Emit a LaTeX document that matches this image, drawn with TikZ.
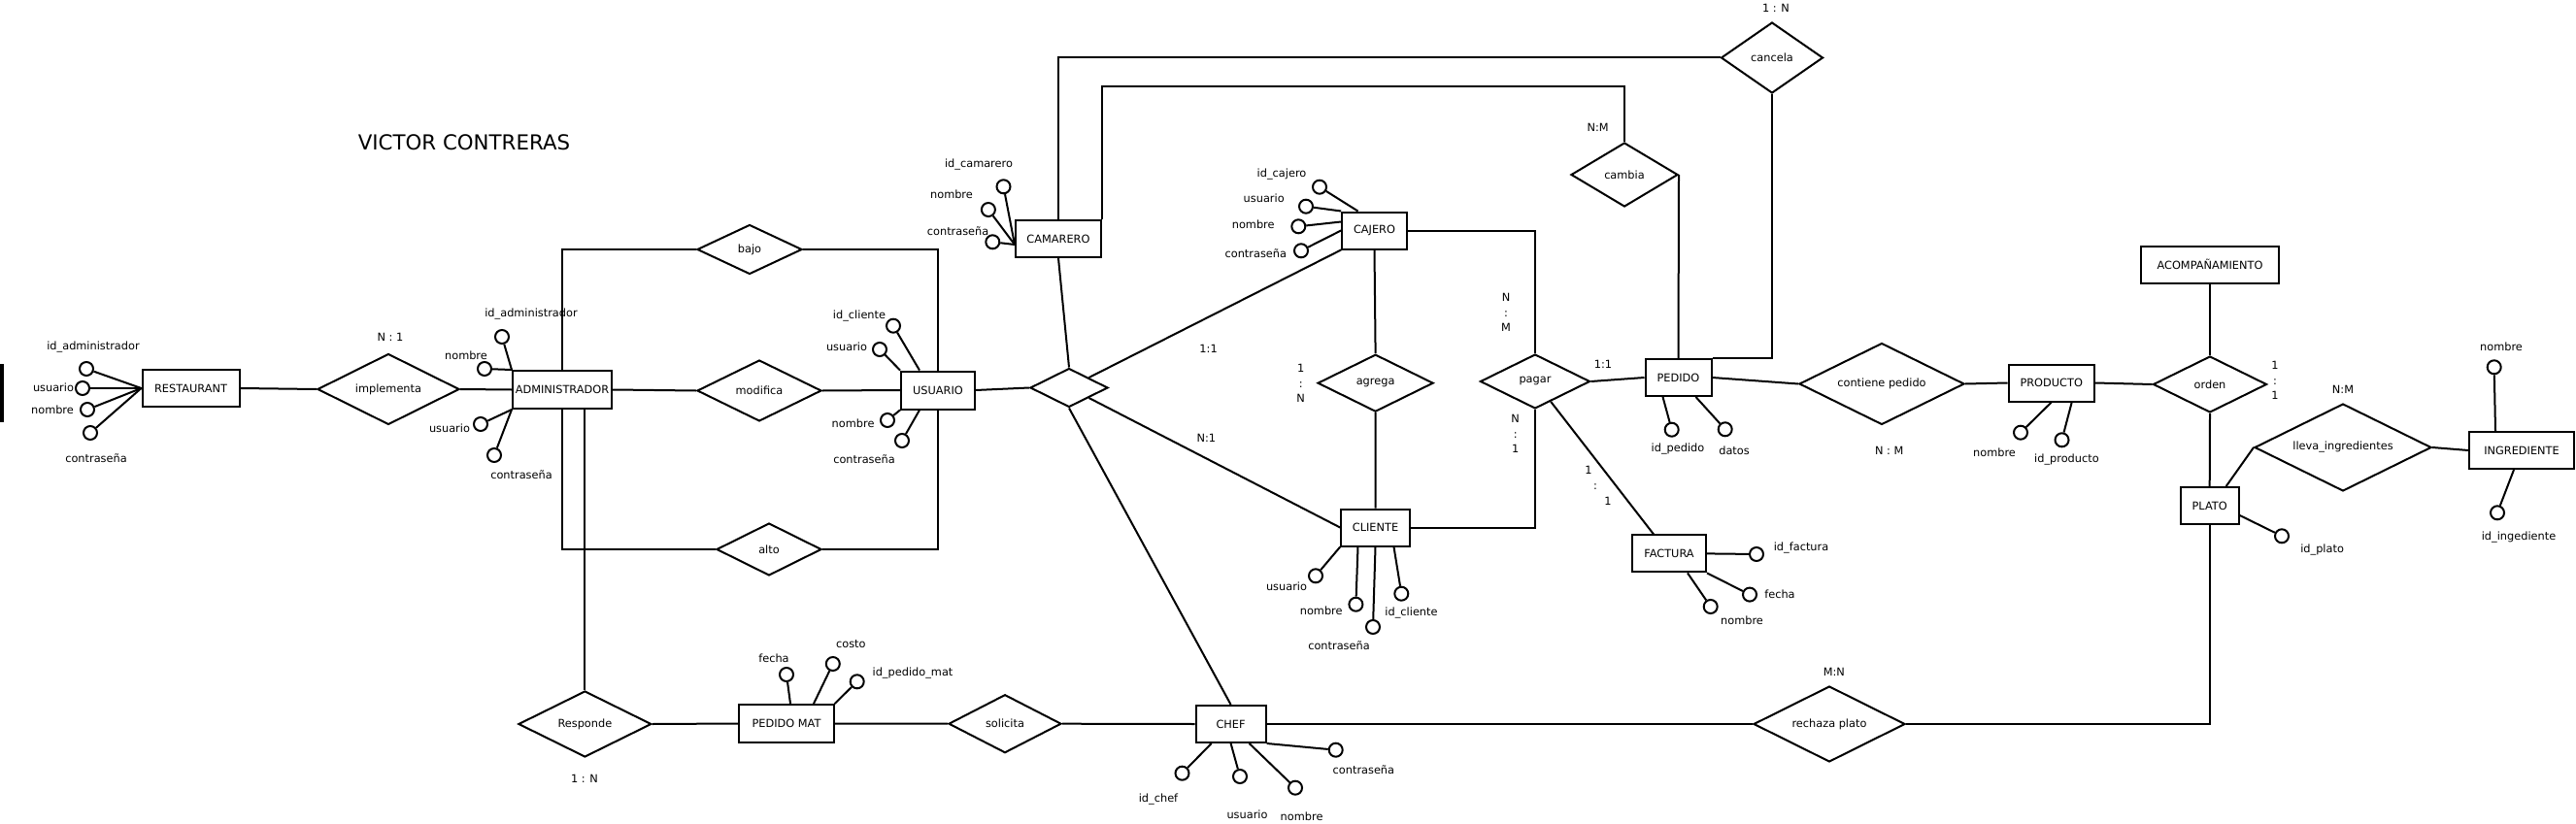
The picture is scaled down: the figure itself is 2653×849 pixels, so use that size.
\documentclass[tikz,border=0pt]{standalone}
\usepackage{fontspec}
\setmainfont{DejaVu Sans}
\usetikzlibrary{shapes.geometric,calc}

\tikzset{every picture/.style={line width=1.5pt}}

\begin{document}
\begin{tikzpicture}[x=0.75pt,y=0.75pt,yscale=-1,xscale=1,
    font=\fontsize{8.5}{11.6}\selectfont,
    ent/.style={draw, rectangle, inner sep=0.75pt, minimum height=28.5pt},
    rel/.style={draw, diamond, aspect=2, inner sep=0pt},
    atr/.style={draw, circle, minimum size=10.5pt, inner sep=0pt},
    lbl/.style={inner sep=0.75pt}]
    %set diagram left start at 0, and has height of 849
    \useasboundingbox (0,0) rectangle (2653,849);

    % Text Node
    \node [font=\fontsize{16}{19}\selectfont] (title) at (478,146.5) {VICTOR CONTRERAS};
    %Shape: Rectangle
    \fill (0,375) rectangle (4,435);

    %Shape: Rectangle (entidades)
    \node [ent, minimum width=75pt] (restaurant) at (196.5,400) {RESTAURANT};
    \node [ent, minimum width=76.5pt, minimum height=29.25pt] (admin) at (579,401.5) {ADMINISTRADOR};
    \node [ent, minimum width=57pt, minimum height=29.25pt] (usuario) at (966,402) {USUARIO};
    \node [ent, minimum width=66pt] (camarero) at (1090,246) {CAMARERO};
    \node [ent, minimum width=50pt] (cajero) at (1415.5,237.5) {CAJERO};
    \node [ent, minimum width=53pt] (cliente) at (1416.5,543.5) {CLIENTE};
    \node [ent, minimum width=51pt] (pedido) at (1728.5,389) {PEDIDO};
    \node [ent, minimum width=57pt] (factura) at (1719,570.4) {FACTURA};
    \node [ent, minimum width=66pt] (producto) at (2112.7,394.5) {PRODUCTO};
    \node [ent, minimum width=106pt] (acomp) at (2276,272.5) {ACOMPAÑAMIENTO};
    \node [ent, minimum width=45pt] (plato) at (2275.7,521) {PLATO};
    \node [ent, minimum width=81pt] (ingrediente) at (2597,464) {INGREDIENTE};
    \node [ent, minimum width=73pt, minimum height=29.25pt] (pedidomat) at (810,745.5) {PEDIDO MAT};
    \node [ent, minimum width=54pt] (chef) at (1267.6,746) {CHEF};

    %Shape: Diamond (relaciones)
    \node [rel, minimum width=109.5pt, minimum height=54.75pt] (implementa) at (400,401) {implementa};
    \node [rel, minimum width=81pt, minimum height=38.25pt] (bajo) at (772,257) {bajo};
    \node [rel, minimum width=96pt, minimum height=47.25pt] (modifica) at (782,402.5) {modifica};
    \node [rel, minimum width=81pt, minimum height=40.5pt] (alto) at (792,566) {alto};
    \node [rel, minimum width=60pt, minimum height=30pt] (rol) at (1101,399.5) {};
    \node [rel, minimum width=89.25pt, minimum height=44.25pt] (agrega) at (1416.6,394.7) {agrega};
    \node [rel, minimum width=84.75pt, minimum height=42pt] (pagar) at (1581,393) {pagar};
    \node [rel, minimum width=82.5pt, minimum height=49.5pt] (cambia) at (1673,180) {cambia};
    \node [rel, minimum width=78.75pt, minimum height=54.75pt] (cancela) at (1825,59.5) {cancela};
    \node [rel, minimum width=127.5pt, minimum height=63pt] (contiene) at (1938,395.5) {contiene pedido};
    \node [rel, minimum width=87.75pt, minimum height=43.5pt] (orden) at (2276,396) {orden};
    \node [rel, minimum width=136.5pt, minimum height=67.5pt] (lleva) at (2413,461) {lleva\_ingredientes};
    \node [rel, minimum width=117pt, minimum height=58.5pt] (rechaza) at (1884,746) {rechaza plato};
    \node [rel, minimum width=102.75pt, minimum height=51pt] (responde) at (602.4,746) {Responde};
    \node [rel, minimum width=87pt, minimum height=45pt] (solicita) at (1035,745.7) {solicita};

    %Straight Lines (relaciones)
    \draw (restaurant.east) -- (implementa.west);
    \draw (implementa.east) -- (admin.west);
    \draw (admin.east) -- (modifica.west);
    \draw (modifica.east) -- (usuario.west);
    \draw (admin.north) |- (bajo.west);
    \draw (bajo.east) -| (usuario.north);
    \draw (admin.south) |- (alto.west);
    \draw (alto.east) -| (usuario.south);
    \draw (admin.south -| responde.north) -- (responde.north);
    \draw (responde.east) -- (pedidomat.west);
    \draw (pedidomat.east) -- (solicita.west);
    \draw (solicita.east) -- (chef.west);
    \draw (chef.east) -- (rechaza.west);
    \draw (rechaza.east) -| (plato.south);
    \draw (usuario.east) -- (rol.west);
    \draw (camarero.south) -- (rol.north);
    \draw (rol.north east) -- (cajero.south west);
    \draw (rol.south east) -- (cliente.west);
    \draw (rol.south) -- (chef.north);
    \coordinate (cambiaRuta) at (1673,89);
    \draw (camarero.north) |- (cancela.west);
    \draw (camarero.north east) |- (cambiaRuta) -- (cambia.north);
    \draw (cambia.east) -- (pedido.north);
    \draw (cancela.south) |- (pedido.north east);
    \draw (cajero.east) -| (pagar.north);
    \draw (cajero.south) -- (agrega.north);
    \draw (agrega.south) -- (cliente.north);
    \draw (cliente.east) -| (pagar.south);
    \draw (pagar.east) -- (pedido.west);
    \draw (pagar) -- ($(factura.north)+(-16,0)$);
    \draw (pedido.east) -- (contiene.west);
    \draw (contiene.east) -- (producto.west);
    \draw (producto.east) -- (orden.west);
    \draw (acomp.south) -- (orden.north);
    \draw (orden.south) -- (plato.north);
    \draw ($(plato.north east)+(-14,0)$) -- (lleva.west);
    \draw (lleva.east) -- (ingrediente.west);

    %Shape: Circle (atributos) RESTAURANT
    \node [atr] (rA1) at (89,380) {};
    \node [atr] (rA2) at (85,400) {};
    \node [atr] (rA3) at (90,422) {};
    \node [atr] (rA4) at (93,446) {};
    \draw (restaurant.west) -- (rA1);
    \draw (restaurant.west) -- (rA2);
    \draw (restaurant.west) -- (rA3);
    \draw (restaurant.west) -- (rA4);
    % Text Node
    \node [lbl] (rA1l) at (96,358) {id\_administrador};
    \node [lbl] (rA2l) at (55,399) {usuario};
    \node [lbl] (rA3l) at (54,422) {nombre};
    \node [lbl] (rA4l) at (99,472) {contraseña};

    %Shape: Circle ADMINISTRADOR
    \node [atr] (aA1) at (517,347) {};
    \node [atr] (aA2) at (499,380) {};
    \node [atr] (aA3) at (495,437) {};
    \node [atr] (aA4) at (509,469) {};
    \draw (admin.north west) -- (aA1);
    \draw (admin.north west) -- (aA2);
    \draw (admin.south west) -- (aA3);
    \draw (admin.south west) -- (aA4);
    % Text Node
    \node [lbl] (aA1l) at (547,324) {id\_administrador};
    \node [lbl] (aA2l) at (480,366) {nombre};
    \node [lbl] (aA3l) at (463,441) {usuario};
    \node [lbl] (aA4l) at (537,489) {contraseña};

    %Shape: Circle USUARIO
    \node [atr] (uA1) at (920,335.7) {};
    \node [atr] (uA2) at (906,360) {};
    \node [atr] (uA3) at (914,433) {};
    \node [atr] (uA4) at (929,454) {};
    \draw ($(usuario.north)+(-19,0)$) -- (uA1);
    \draw (usuario.north west) -- (uA2);
    \draw (usuario.south west) -- (uA3);
    \draw ($(usuario.south)+(-19,0)$) -- (uA4);
    % Text Node
    \node [lbl] (uA1l) at (885,326) {id\_cliente};
    \node [lbl] (uA2l) at (872,357.7) {usuario};
    \node [lbl] (uA3l) at (878.6,436.7) {nombre};
    \node [lbl] (uA4l) at (890,472.7) {contraseña};

    %Shape: Circle CAMARERO
    \node [atr] (mA1) at (1033.5,192.3) {};
    \node [atr] (mA2) at (1017.9,216) {};
    \node [atr] (mA3) at (1022.3,249.3) {};
    \draw ($(camarero.west)+(0,6)$) -- (mA1);
    \draw ($(camarero.west)+(0,6)$) -- (mA2);
    \draw ($(camarero.west)+(0,6)$) -- (mA3);
    % Text Node
    \node [lbl] (mA1l) at (1008,170) {id\_camarero};
    \node [lbl] (mA2l) at (980,200.7) {nombre};
    \node [lbl] (mA3l) at (986.6,237.7) {contraseña};

    %Shape: Circle CAJERO
    \node [atr] (jA1) at (1359,192.7) {};
    \node [atr] (jA2) at (1345,212.7) {};
    \node [atr] (jA3) at (1337.3,233.3) {};
    \node [atr] (jA4) at (1340,258.3) {};
    \draw ($(cajero.north)+(-17,0)$) -- (jA1);
    \draw (cajero.north west) -- (jA2);
    \draw ($(cajero.west)+(0,-9)$) -- (jA3);
    \draw (cajero.west) -- (jA4);
    % Text Node
    \node [lbl] (jA1l) at (1320,180) {id\_cajero};
    \node [lbl] (jA2l) at (1301.7,204.3) {usuario};
    \node [lbl] (jA3l) at (1290.7,231.7) {nombre};
    \node [lbl] (jA4l) at (1293.3,260.7) {contraseña};

    %Shape: Circle CLIENTE
    \node [atr] (lA1) at (1355,593.3) {};
    \node [atr] (lA2) at (1396.4,622.7) {};
    \node [atr] (lA3) at (1414,646) {};
    \node [atr] (lA4) at (1443.3,611.7) {};
    \draw (cliente.south west) -- (lA1);
    \draw ($(cliente.south)+(-18,0)$) -- (lA2);
    \draw (cliente.south) -- (lA3);
    \draw ($(cliente.south)+(19,0)$) -- (lA4);
    % Text Node
    \node [lbl] (lA1l) at (1325,604.3) {usuario};
    \node [lbl] (lA2l) at (1360.7,629) {nombre};
    \node [lbl] (lA3l) at (1379,665) {contraseña};
    \node [lbl] (lA4l) at (1453.5,631.7) {id\_cliente};

    %Shape: Circle PEDIDO
    \node [atr] (pA1) at (1721.7,442.7) {};
    \node [atr] (pA2) at (1776.7,442.3) {};
    \draw ($(pedido.south)+(-16,0)$) -- (pA1);
    \draw ($(pedido.south)+(18,0)$) -- (pA2);
    % Text Node
    \node [lbl] (pA1l) at (1728,463) {id\_pedido};
    \node [lbl] (pA2l) at (1786,464) {datos};

    %Shape: Circle FACTURA
    \node [atr] (fA1) at (1809,571) {};
    \node [atr] (fA2) at (1802,612.6) {};
    \node [atr] (fA3) at (1761.7,625) {};
    \draw (factura.east) -- (fA1);
    \draw (factura.south east) -- (fA2);
    \draw ($(factura.south)+(19,0)$) -- (fA3);
    % Text Node
    \node [lbl] (fA1l) at (1855,565) {id\_factura};
    \node [lbl] (fA2l) at (1833,612) {fecha};
    \node [lbl] (fA3l) at (1794,639.6) {nombre};

    %Shape: Circle PRODUCTO
    \node [atr] (dA1) at (2081,445.7) {};
    \node [atr] (dA2) at (2123.5,453.3) {};
    \draw (producto.south) -- (dA1);
    \draw ($(producto.south)+(21,0)$) -- (dA2);
    % Text Node
    \node [lbl] (dA1l) at (2054,466.7) {nombre};
    \node [lbl] (dA2l) at (2128.4,474) {id\_producto};

    %Shape: Circle INGREDIENTE
    \node [atr] (gA1) at (2568.7,378.3) {};
    \node [atr] (gA2) at (2572,528.3) {};
    \draw ($(ingrediente.north)+(-27,0)$) -- (gA1);
    \draw ($(ingrediente.south)+(-8,0)$) -- (gA2);
    % Text Node
    \node [lbl] (gA1l) at (2576,357.3) {nombre};
    \node [lbl] (gA2l) at (2594,553.3) {id\_ingediente};

    %Shape: Circle PLATO
    \node [atr] (tA1) at (2350,552.3) {};
    \draw ($(plato.east)+(0,10)$) -- (tA1);
    % Text Node
    \node [lbl] (tA1l) at (2391.6,566.7) {id\_plato};

    %Shape: Circle PEDIDO MAT
    \node [atr] (xA1) at (810,695) {};
    \node [atr] (xA2) at (857.8,684) {};
    \node [atr] (xA3) at (882.7,702.3) {};
    \draw ($(pedidomat.north)+(4,0)$) -- (xA1);
    \draw ($(pedidomat.north)+(28,0)$) -- (xA2);
    \draw (pedidomat.north east) -- (xA3);
    % Text Node
    \node [lbl] (xA1l) at (797,678.3) {fecha};
    \node [lbl] (xA2l) at (876.3,664) {costo};
    \node [lbl] (xA3l) at (940,694) {id\_pedido\_mat};

    %Shape: Circle CHEF
    \node [atr] (hA1) at (1217.5,796.7) {};
    \node [atr] (hA2) at (1277,800) {};
    \node [atr] (hA3) at (1334,811.7) {};
    \node [atr] (hA4) at (1375.7,772.7) {};
    \draw ($(chef.south)+(-20,0)$) -- (hA1);
    \draw (chef.south) -- (hA2);
    \draw ($(chef.south)+(19,0)$) -- (hA3);
    \draw (chef.south east) -- (hA4);
    % Text Node
    \node [lbl] (hA1l) at (1193,824) {id\_chef};
    \node [lbl] (hA2l) at (1284.5,839.3) {usuario};
    \node [lbl] (hA3l) at (1340.6,841.7) {nombre};
    \node [lbl] (hA4l) at (1404.4,793.3) {contraseña};

    % Text Node (cardinalidades)
    \node [lbl] (cImp) at (402,347) {N : 1};
    \node [lbl] (cRes) at (602,802.7) {1 : N};
    \node [lbl] (cRolCaj) at (1244.6,359) {1:1};
    \node [lbl] (cRolCli) at (1242.4,451) {N:1};
    \node [lbl, align=center] (cAgr) at (1339.7,395) {1\\:\\N};
    \node [lbl, align=center] (cPagCaj) at (1551,322) {N\\:\\M};
    \node [lbl, align=center] (cPagCli) at (1560.7,447) {N\\:\\1};
    \node [lbl] (cPagPed) at (1651,375.5) {1:1};
    \node [lbl] (cPagFa1) at (1636,484) {1};
    \node [lbl] (cPagFa2) at (1643,501.5) {:};
    \node [lbl] (cPagFa3) at (1656,516) {1};
    \node [lbl] (cCam) at (1645.7,131) {N:M};
    \node [lbl] (cCan) at (1829,8.3) {1 : N};
    \node [lbl] (cCon) at (1945.7,464) {N : M};
    \node [lbl, align=center] (cOrd) at (2343,392) {1\\:\\1};
    \node [lbl] (cLle) at (2413,401) {N:M};
    \node [lbl] (cRec) at (1888.8,692.7) {M:N};

\end{tikzpicture}
\end{document}
